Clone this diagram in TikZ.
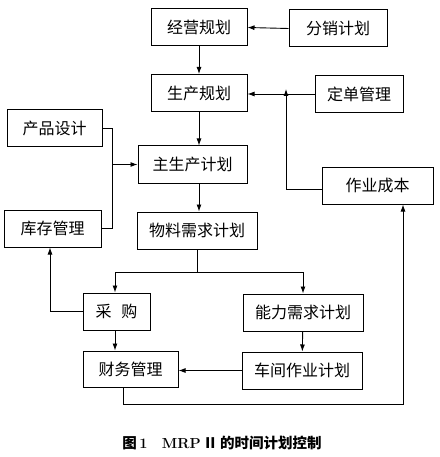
\documentclass[tikz,border=0pt]{standalone}
\usepackage{fontspec}
\newfontfamily\cjk{Noto Sans CJK SC}
\usetikzlibrary{arrows.meta,positioning}
\tikzset{>/.tip={Latex[length=7pt,width=5pt]}}

\begin{document}
\begin{tikzpicture}[x=1pt,y=-1pt,
    box/.style={draw,line width=1pt,minimum height=37pt,inner sep=0pt,
      font=\cjk\fontsize{16}{16}\selectfont},
    link/.style={line width=0.9pt}]
  \useasboundingbox (0,0) rectangle (439,457);

  % upper column
  \node[box,minimum width=96pt](jygh) at (199,27.5){经营规划};
  \node[box,minimum width=98pt](fxjh) at (338,28.5){分销计划};
  \node[box,minimum width=96pt](scgh) at (199,93){生产规划};
  \node[box,minimum width=88pt](ddgl) at (359,94){定单管理};
  \node[box,minimum width=95pt](cpsj) at (54.5,128.5){产品设计};
  \node[box,minimum width=109pt](zscjh) at (192.5,164.5){主生产计划};
  \node[box,minimum width=111pt](zycb) at (377.5,185.5){作业成本};
  \node[box,minimum width=97pt](kcgl) at (52.5,228.5){库存管理};
  \node[box,minimum width=120pt](wlxq) at (197,230.5){物料需求计划};

  % lower part
  \node[box,minimum width=67pt](cg) at (116.5,311.5){采\hspace{0.6em}购};
  \node[box,minimum width=120pt](nlxq) at (303,312.5){能力需求计划};
  \node[box,minimum width=95pt,minimum height=36pt](cwgl) at (130.5,369){财务管理};
  \node[box,minimum width=120pt](cjzy) at (302,370.5){车间作业计划};

  \node(cap) at (222,443){\cjk\bfseries\fontsize{14.5}{14.5}\selectfont
    图\,\textrm{1}\quad\textrm{MRP}\,Ⅱ\,的时间计划控制};

  % junction points
  \coordinate(dd) at (ddgl.west -| 286,0);
  \coordinate(cb) at (286,189);
  \coordinate(lb) at (cpsj.east -| 112,0);
  \coordinate(lk) at (kcgl.east -| 112,0);
  \coordinate(lm) at (zscjh.west -| 112,0);
  \coordinate(wl) at (wlxq.south |- 0,272);
  \coordinate(cgt) at (115,272);
  \coordinate(nlt) at (nlxq.north |- 0,272);
  \coordinate(cgl) at (cg.west -| 50,0);
  \coordinate(cwb) at (cwgl.south -| 123,0);
  \coordinate(bot1) at (123,404);
  \coordinate(bot2) at (403,404);
  \coordinate(cbb) at (zycb.south -| 403,0);

  \draw[link,->] (fxjh.west) -- (jygh.east);
  \draw[link,->] (jygh) -- (scgh);
  \draw[link,->] (ddgl.west) -- (scgh.east |- ddgl.west);
  \draw[link,->] (zycb.west |- cb) -- (cb) -- ([yshift=5pt]dd);
  \draw[link,->] (scgh) -- (zscjh.north -| scgh.south);
  \draw[link] (cpsj.east) -- (lb) -- (lk) -- (kcgl.east);
  \draw[link,->] (lm) -- (zscjh.west);
  \draw[link,->] (zscjh.south -| scgh.south) -- (wlxq.north -| scgh.south);
  \draw[link] (wlxq.south) -- (wl);
  \draw[link,->] (cgt) -- (nlt) -- (nlxq.north);
  \draw[link,->] (cgt) -- (cg.north -| cgt);
  \draw[link,->] (cg.west) -- (cgl) -- (kcgl.south -| cgl);
  \draw[link,->] (cg.south -| cgt) -- (cwgl.north -| cgt);
  \draw[link,->] (nlxq) -- (cjzy);
  \draw[link,->] (cjzy.west) -- (cwgl.east |- cjzy.west);
  \draw[link,->] (cwb) -- (bot1) -- (bot2) -- (cbb);
\end{tikzpicture}
\end{document}
